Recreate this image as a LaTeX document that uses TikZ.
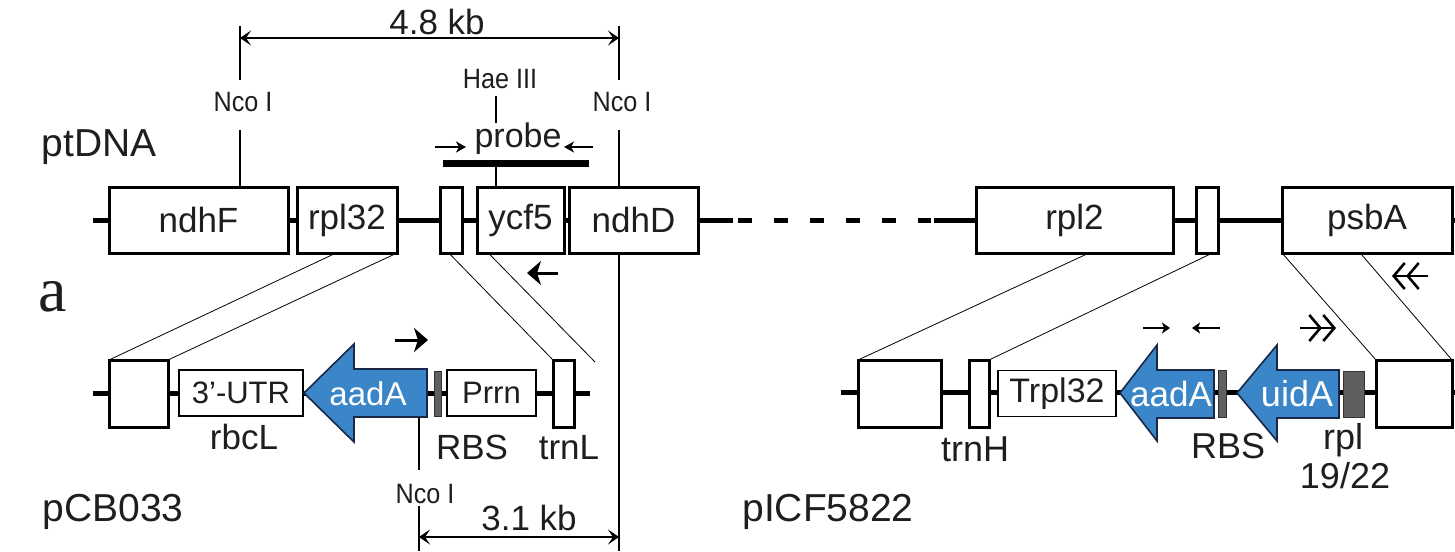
\documentclass[tikz,border=0pt]{standalone}
\usepackage{fontspec}
\setmainfont{Liberation Sans}
\newfontfamily\condfont[FakeStretch=0.9]{Liberation Sans}
\newfontfamily\serifa{Liberation Serif}
\usetikzlibrary{arrows.meta,calc}
\definecolor{geneblue}{RGB}{58,134,200}
\definecolor{geneedge}{RGB}{25,40,70}
\definecolor{bargray}{RGB}{95,95,95}
\definecolor{ink}{RGB}{30,30,30}
\tikzset{
  bb/.style={line width=5pt},
  gene/.style={draw, line width=3pt, fill=white, inner sep=0pt, outer sep=0pt, minimum height=66pt,
    font=\fontsize{35}{35}\selectfont},
  thinbox/.style={draw, line width=1.2pt, fill=white, inner sep=0pt, outer sep=0pt, minimum height=46pt,
    font=\fontsize{31}{31}\selectfont},
  bar/.style={draw=black!80, line width=0.6pt, fill=bargray, inner sep=0pt, outer sep=0pt},
  cds/.style={fill=geneblue, draw=geneedge, line width=1.6pt, line join=miter},
  cdslbl/.style={text=white, font=\fontsize{33}{33}\selectfont, inner sep=0pt},
  lbl/.style={font=\fontsize{35}{35}\selectfont, inner sep=0pt},
  big/.style={font=\fontsize{39}{39}\selectfont, inner sep=0pt},
  cond/.style={font=\condfont\fontsize{28}{28}\selectfont, inner sep=0pt},
  conn/.style={line width=0.8pt},
  site/.style={line width=1.6pt},
  dimtip/.style={Stealth[length=11pt,width=15pt,inset=5pt]},
  dim/.style={line width=2.4pt, {Stealth[length=11pt,width=15pt,inset=5pt]}-{Stealth[length=11pt,width=15pt,inset=5pt]}},
  smallarr/.style={line width=2pt, -{Stealth[length=10pt,width=11pt,inset=3pt]}},
  boldarr/.style={line width=3pt, -{Stealth[length=14pt,width=24pt,inset=4pt]}},
  tinyarr/.style={line width=2.4pt, -{Stealth[length=8pt,width=11pt,inset=2pt]}},
  dblarr/.style={line width=2.6pt, -{Straight Barb[length=11pt,width=26pt,line width=2.6pt] Straight Barb[length=11pt,width=26pt,line width=2.6pt]}},
}
\begin{document}
\begin{tikzpicture}[x=1pt,y=-1pt, every node/.style={text=ink}]
\path[use as bounding box] (0,0) rectangle (1455,551);

% ---------------- ptDNA backbone ----------------
\draw[bb] (93,220) -- (733,220);
\draw[bb, dash pattern=on 14pt off 22pt] (738,220) -- (931,220);
\draw[bb] (934,220) -- (1455,220);

\node[gene, minimum width=179pt] (ndhF) at (198.5,220) {ndhF};
\node[gene, minimum width=100pt] (rpl32) at (347,220) {rpl32};
\node[gene, minimum width=22pt] (s1) at (451,220) {};
\node[gene, minimum width=87pt] (ycf5) at (520.5,220) {ycf5};
\node[gene, minimum width=129pt] (ndhD) at (633.5,220) {ndhD};
\node[gene, minimum width=197pt] (rpl2) at (1074.5,220) {rpl2};
\node[gene, minimum width=22pt] (s2) at (1207,220) {};
\node[gene, minimum width=170pt] (psbA) at (1367,220) {psbA};

\node[big] (ptdna) at (99,147) {ptDNA};
\node[font=\serifa\fontsize{64}{64}\selectfont, inner sep=0pt] (alabel) at (53,297) {a};

% ---------------- restriction sites / 4.8 kb ----------------
\coordinate (ncoLtop) at (240,26);
\coordinate (ncoRtop) at (619,26);
\node[cond] (ncoL) at (243,102) {Nco I};
\node[cond] (ncoR) at (622,102) {Nco I};
\draw[site] (ncoLtop) -- (ncoLtop |- 0,80);
\draw[site] (ncoLtop |- 0,130) -- (ncoLtop |- ndhF.north);
\draw[site] (ncoRtop) -- (ncoRtop |- 0,80);
\draw[site] (ncoRtop |- 0,130) -- (ncoRtop |- ndhD.north);
\coordinate (ncoRbot) at (619,551);
\draw[site] (ncoRtop |- ndhD.south) -- (ncoRbot);
\draw[dim] (ncoLtop |- 0,38) -- (ncoRtop |- 0,38);
\node[font=\fontsize{35}{35}\selectfont, inner sep=0pt] (kb48) at (437,22) {4.8 kb};

\node[cond] (hae) at (500,79) {Hae III};
\coordinate (haetop) at (496,96);
\coordinate (haebar) at (496,163);
\draw[site] (haetop) -- (496,123);
\node[font=\fontsize{34}{34}\selectfont, inner sep=0pt] (probe) at (518,139) {probe};
\coordinate (pbL) at (443,163);
\coordinate (pbR) at (589,163);
\draw[line width=7pt] (pbL) -- (pbR);
\draw[site] (haebar) -- (haebar |- ycf5.north);
\draw[smallarr] (435,147) -- (466,147);
\draw[smallarr] (593,147) -- (564,147);

\draw[boldarr] (558,273) -- (527,273);
\draw[dblarr] (1428,276) -- (1392,276);

% ---------------- pCB033 ----------------
\draw[bb] (93,393) -- (590,393);
\node[gene, minimum width=59pt, minimum height=67pt] (b1) at (138.5,393.5) {};
\node[thinbox, minimum width=124pt] (utr) at (241,393) {3’-UTR};
\draw[cds] (427,369) -- (354,369) -- (354,344) -- (304,393) -- (354,442) -- (354,417) -- (427,417) -- cycle;
\node[cdslbl] (aadA1) at (368,394) {aadA};
\node[bar, minimum width=7pt, minimum height=45pt] (rbs1) at (437.5,393.5) {};
\node[thinbox, minimum width=89pt] (prrn) at (491.5,393) {Prrn};
\node[gene, minimum width=21pt, minimum height=67pt] (trnL) at (563.5,393.5) {};

\node[lbl] (rbcL) at (244,437) {rbcL};
\node[lbl] (rbsL1) at (472,447) {RBS};
\node[lbl] (trnLl) at (569,448) {trnL};
\node[big] (pcb) at (113,512) {pCB033};

\draw[boldarr] (395,340) -- (428,340);

\coordinate (ncoBtop) at (419,417);
\node[cond] (ncoB) at (425,494) {Nco I};
\draw[site] (ncoBtop) -- (ncoBtop |- 0,470);
\coordinate (ncoBbot) at (419,551);
\draw[site] (ncoBtop |- 0,506) -- (ncoBbot);
\draw[dim] (ncoBtop |- 0,537) -- (ncoRtop |- 0,537);
\node[font=\fontsize{35}{35}\selectfont, inner sep=0pt] (kb31) at (529,518) {3.1 kb};

% connectors ptDNA -> pCB033
\coordinate (L4end) at (595,362);
\draw[conn] ($(rpl32.south west)!0.39!(rpl32.south east)$) -- (b1.north west);
\draw[conn] (rpl32.south east) -- (b1.north east);
\draw[conn] ($(s1.south west)!0.4!(s1.south east)$) -- (trnL.north west);
\draw[conn] ($(ycf5.south west)!0.13!(ycf5.south east)$) -- (L4end);

% ---------------- pICF5822 ----------------
\draw[bb] (841,392) -- (1455,392);
\node[gene, minimum width=83pt, minimum height=67pt] (c1) at (899.5,393.5) {};
\node[gene, minimum width=20pt, minimum height=67pt] (trnH) at (979,393.5) {};
\node[thinbox, minimum width=118pt, font=\fontsize{34}{34}\selectfont] (trpl) at (1057,393.5) {Trpl32};
\draw[cds] (1214,370) -- (1157,370) -- (1157,345) -- (1120,393) -- (1157,441) -- (1157,418) -- (1214,418) -- cycle;
\node[cdslbl, font=\fontsize{35}{35}\selectfont] (aadA2) at (1171,394) {aadA};
\node[bar, minimum width=8pt, minimum height=47pt] (rbs2) at (1222,393.5) {};
\draw[cds] (1339,370) -- (1277,370) -- (1277,345) -- (1237,393) -- (1277,441) -- (1277,418) -- (1339,418) -- cycle;
\node[cdslbl, font=\fontsize{36}{36}\selectfont] (uidA) at (1297,394) {uidA};
\node[bar, minimum width=21pt, minimum height=46pt] (rplbar) at (1353.5,394) {};
\node[gene, minimum width=76pt, minimum height=67pt] (c2) at (1414,393.5) {};

\node[lbl, font=\fontsize{36}{36}\selectfont] (trnHl) at (975,449) {trnH};
\node[lbl, font=\fontsize{36}{36}\selectfont] (rbsL2) at (1228,446) {RBS};
\node[lbl, font=\fontsize{36}{36}\selectfont] (rpll) at (1343,440) {rpl};
\node[lbl, font=\fontsize{36}{36}\selectfont] (rpln) at (1345,476) {19/22};
\node[big] (picf) at (828,512) {pICF5822};

\draw[tinyarr] (1143,328) -- (1170,328);
\draw[tinyarr] (1220,328) -- (1192,328);
\draw[dblarr] (1300,328) -- (1336,328);

% connectors ptDNA -> pICF5822
\draw[conn] ($(rpl2.south west)!0.574!(rpl2.south east)$) -- (c1.north west);
\draw[conn] ($(s2.south west)!0.75!(s2.south east)$) -- (trnH.north east);
\draw[conn] (psbA.south west) -- (c2.north west);
\draw[conn] ($(psbA.south west)!0.46!(psbA.south east)$) -- (c2.north east);
\end{tikzpicture}
\end{document}
